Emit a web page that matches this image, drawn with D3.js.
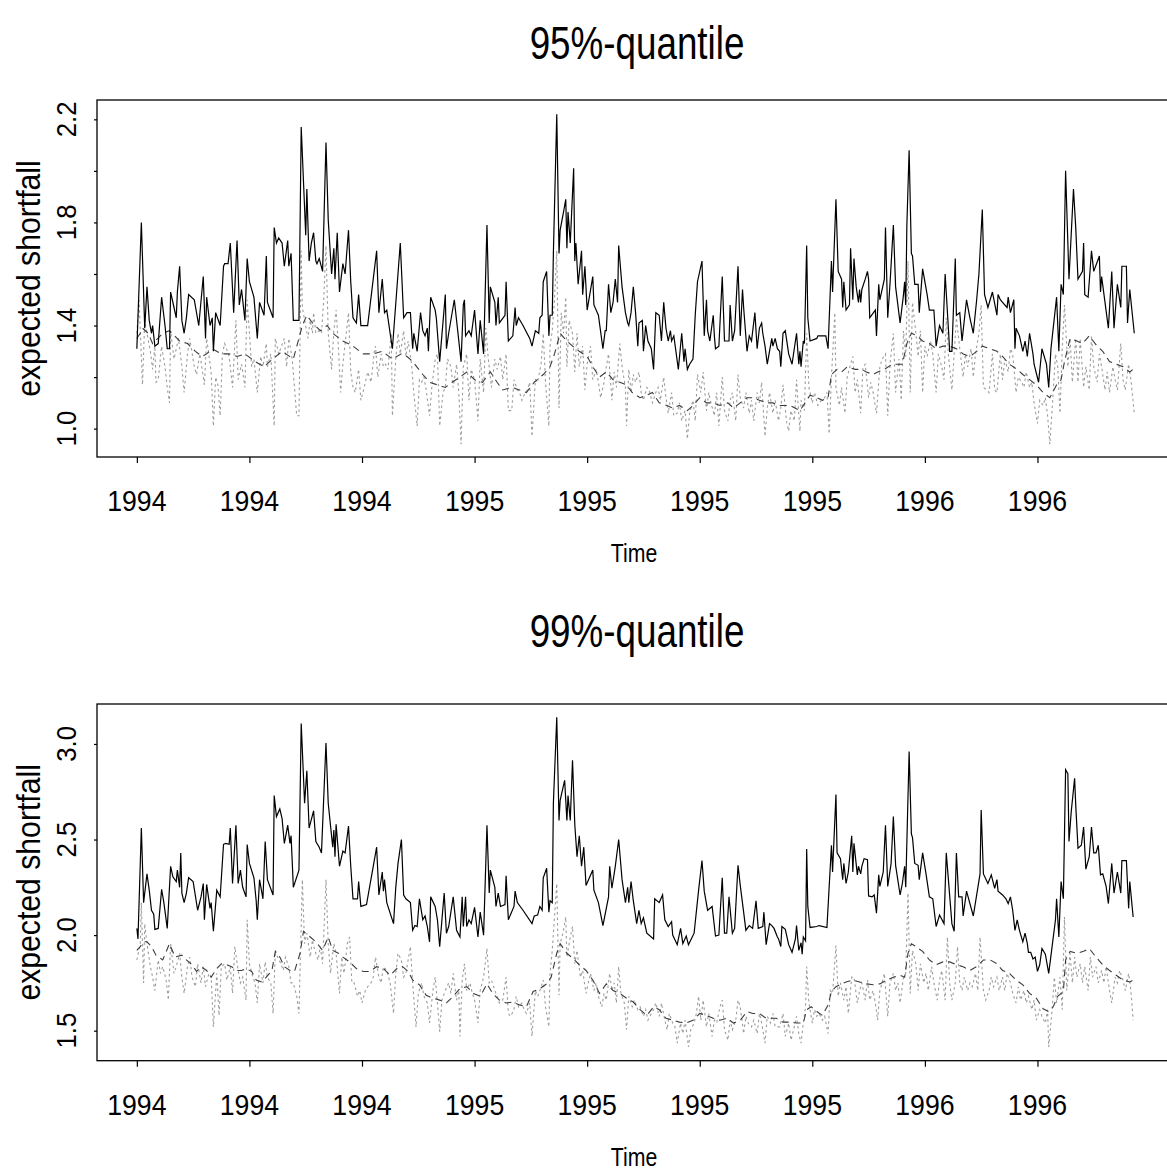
<!DOCTYPE html>
<html>
<head>
<meta charset="utf-8">
<script src="https://cdn.jsdelivr.net/npm/d3@7"></script>
<style>
    body { margin: 0; background: #fff; }
    text { font-family: "Liberation Sans", Arial, Helvetica, sans-serif; fill: #000; }
</style>
</head>
<body>
<svg id="chart" width="1167" height="1171"></svg>
<script>
/** ------------- DATA -------------- */

/** observation index of each x tick, and its label */
const tickDays = [0, 100, 200, 300, 400, 500, 600, 700, 800];
const tickLabels = ["1994", "1994", "1994", "1995", "1995", "1995", "1995", "1996", "1996"];

/** y ticks of each panel (only some of them get a label) */
const yTicks95 = [1.0, 1.2, 1.4, 1.6, 1.8, 2.0, 2.2];
const yLabels95 = [1.0, 1.4, 1.8, 2.2];
const yTicks99 = [1.5, 2.0, 2.5, 3.0];
const yLabels99 = [1.5, 2.0, 2.5, 3.0];

/** 95%-quantile: [observation, expected shortfall] */
const es95Solid = [[0,1.31],[4,1.80],[7,1.39],[9,1.55],[11,1.42],[13,1.37],[14,1.40],[16,1.32],[19,1.33],[22,1.51],[25,1.40],[27,1.31],[29,1.31],[30,1.53],[33,1.47],[35,1.43],[36,1.53],[38,1.63],[40,1.42],[42,1.37],[44,1.43],[46,1.52],[51,1.50],[55,1.40],[59,1.59],[61,1.35],[62,1.51],[65,1.40],[67,1.43],[68,1.30],[70,1.45],[74,1.40],[77,1.63],[78,1.64],[81,1.64],[83,1.72],[86,1.45],[89,1.73],[91,1.48],[93,1.54],[96,1.42],[98,1.66],[100,1.57],[104,1.51],[107,1.35],[109,1.49],[113,1.44],[115,1.67],[116,1.49],[121,1.43],[122,1.78],[124,1.72],[126,1.74],[129,1.72],[131,1.63],[134,1.73],[135,1.63],[137,1.68],[139,1.42],[144,1.42],[146,2.17],[150,1.75],[151,1.93],[153,1.65],[155,1.72],[157,1.76],[159,1.65],[160,1.64],[162,1.66],[165,1.61],[168,2.11],[170,1.81],[173,1.60],[175,1.70],[176,1.58],[178,1.76],[180,1.53],[183,1.64],[185,1.60],[188,1.77],[190,1.57],[192,1.43],[195,1.41],[197,1.52],[199,1.40],[205,1.40],[213,1.69],[215,1.45],[218,1.58],[220,1.45],[222,1.46],[227,1.31],[234,1.72],[237,1.43],[240,1.45],[243,1.45],[245,1.31],[246,1.37],[249,1.30],[252,1.45],[254,1.38],[256,1.36],[258,1.39],[259,1.30],[261,1.51],[265,1.46],[266,1.43],[269,1.26],[274,1.52],[275,1.31],[277,1.37],[282,1.50],[288,1.26],[290,1.48],[291,1.50],[292,1.36],[295,1.38],[297,1.36],[300,1.46],[303,1.29],[305,1.42],[308,1.29],[311,1.79],[313,1.41],[314,1.55],[318,1.49],[319,1.40],[321,1.51],[322,1.41],[327,1.44],[328,1.57],[330,1.34],[334,1.36],[336,1.47],[337,1.40],[339,1.43],[343,1.40],[349,1.35],[351,1.32],[354,1.38],[357,1.37],[358,1.43],[360,1.44],[361,1.57],[364,1.61],[366,1.36],[367,1.44],[369,1.44],[370,1.68],[373,2.22],[375,1.68],[376,1.77],[379,1.84],[381,1.89],[382,1.70],[383,1.84],[385,1.72],[388,2.01],[389,1.65],[390,1.72],[392,1.56],[395,1.69],[396,1.52],[398,1.63],[400,1.46],[405,1.59],[406,1.48],[410,1.44],[414,1.31],[416,1.38],[417,1.38],[419,1.56],[421,1.45],[423,1.49],[425,1.58],[427,1.49],[428,1.71],[431,1.55],[434,1.45],[436,1.41],[437,1.40],[439,1.45],[441,1.55],[443,1.45],[445,1.32],[446,1.41],[449,1.42],[450,1.30],[452,1.40],[454,1.34],[457,1.31],[459,1.23],[461,1.45],[464,1.44],[466,1.34],[468,1.49],[470,1.39],[472,1.34],[474,1.38],[475,1.34],[477,1.36],[481,1.23],[484,1.37],[486,1.26],[487,1.31],[489,1.23],[491,1.25],[494,1.27],[496,1.44],[498,1.57],[502,1.65],[504,1.36],[506,1.50],[507,1.38],[509,1.34],[512,1.44],[513,1.36],[514,1.31],[517,1.32],[520,1.59],[522,1.34],[526,1.34],[527,1.48],[529,1.34],[531,1.38],[534,1.63],[536,1.36],[538,1.54],[539,1.47],[542,1.30],[544,1.36],[546,1.34],[549,1.45],[551,1.31],[553,1.39],[555,1.41],[556,1.37],[558,1.32],[560,1.25],[564,1.35],[565,1.32],[567,1.35],[569,1.31],[571,1.30],[572,1.24],[574,1.37],[576,1.38],[579,1.29],[582,1.25],[584,1.31],[586,1.37],[588,1.25],[589,1.30],[590,1.24],[592,1.34],[593,1.33],[595,1.71],[596,1.43],[598,1.34],[604,1.35],[605,1.36],[612,1.36],[614,1.31],[617,1.65],[618,1.53],[621,1.89],[623,1.61],[626,1.58],[627,1.47],[628,1.57],[630,1.46],[633,1.48],[634,1.70],[636,1.50],[637,1.66],[639,1.55],[641,1.49],[642,1.54],[643,1.49],[644,1.54],[647,1.58],[649,1.61],[650,1.58],[651,1.43],[656,1.46],[657,1.36],[659,1.56],[660,1.50],[664,1.58],[665,1.78],[667,1.43],[669,1.56],[672,1.79],[674,1.55],[678,1.41],[681,1.52],[682,1.57],[683,1.48],[684,1.79],[686,2.08],[688,1.68],[689,1.67],[691,1.56],[694,1.56],[695,1.45],[698,1.62],[702,1.52],[704,1.46],[708,1.46],[710,1.32],[713,1.40],[716,1.37],[718,1.60],[721,1.38],[722,1.30],[724,1.30],[727,1.66],[728,1.44],[731,1.45],[733,1.34],[737,1.50],[740,1.43],[743,1.37],[746,1.50],[748,1.60],[751,1.85],[753,1.52],[756,1.47],[760,1.53],[764,1.44],[765,1.52],[767,1.50],[769,1.49],[773,1.47],[774,1.51],[776,1.45],[779,1.50],[780,1.31],[781,1.39],[784,1.36],[787,1.30],[789,1.34],[791,1.28],[793,1.37],[796,1.29],[797,1.25],[801,1.18],[804,1.31],[808,1.25],[810,1.16],[812,1.31],[817,1.51],[819,1.30],[821,1.56],[823,1.52],[825,2.00],[828,1.58],[832,1.93],[834,1.78],[836,1.58],[840,1.61],[841,1.72],[842,1.52],[845,1.51],[848,1.69],[850,1.61],[855,1.67],[856,1.53],[857,1.59],[863,1.39],[866,1.61],[868,1.39],[871,1.56],[874,1.47],[875,1.63],[879,1.63],[880,1.41],[882,1.54],[886,1.37]];

const es95Dashed = [[0,1.35],[3,1.37],[5,1.39],[10,1.37],[14,1.33],[23,1.37],[29,1.38],[38,1.34],[45,1.33],[52,1.30],[58,1.28],[62,1.29],[67,1.31],[75,1.29],[82,1.29],[89,1.28],[96,1.29],[105,1.26],[113,1.24],[118,1.26],[129,1.30],[139,1.27],[147,1.40],[151,1.44],[156,1.41],[163,1.38],[169,1.40],[174,1.37],[183,1.34],[192,1.32],[201,1.29],[210,1.29],[218,1.30],[227,1.27],[235,1.29],[240,1.28],[245,1.26],[254,1.21],[260,1.18],[267,1.17],[274,1.16],[280,1.18],[287,1.20],[293,1.22],[300,1.19],[307,1.18],[314,1.22],[320,1.18],[325,1.15],[333,1.16],[340,1.15],[346,1.14],[353,1.18],[361,1.21],[367,1.24],[371,1.29],[376,1.37],[382,1.34],[387,1.32],[393,1.30],[400,1.28],[405,1.24],[411,1.20],[417,1.22],[423,1.19],[429,1.18],[435,1.17],[440,1.14],[447,1.12],[453,1.13],[458,1.14],[464,1.10],[471,1.09],[476,1.08],[482,1.09],[489,1.07],[494,1.09],[500,1.12],[506,1.10],[512,1.10],[518,1.09],[525,1.10],[530,1.08],[536,1.10],[542,1.12],[547,1.12],[553,1.11],[560,1.10],[565,1.10],[571,1.09],[580,1.09],[589,1.07],[592,1.09],[598,1.13],[604,1.12],[609,1.11],[614,1.12],[617,1.21],[622,1.23],[626,1.22],[631,1.24],[638,1.23],[644,1.23],[648,1.22],[654,1.21],[658,1.22],[664,1.23],[671,1.25],[676,1.25],[680,1.25],[684,1.33],[688,1.37],[693,1.36],[698,1.34],[704,1.33],[710,1.31],[716,1.32],[722,1.32],[728,1.31],[734,1.29],[740,1.28],[746,1.30],[751,1.32],[758,1.31],[764,1.30],[769,1.28],[775,1.25],[782,1.23],[787,1.21],[793,1.19],[799,1.17],[805,1.14],[811,1.12],[817,1.17],[821,1.19],[824,1.26],[829,1.35],[835,1.34],[840,1.33],[846,1.36],[853,1.32],[858,1.30],[864,1.26],[870,1.25],[876,1.24],[882,1.22],[885,1.23]];

const es95Dotted = [[0,1.37],[2,1.50],[5,1.17],[7,1.42],[9,1.37],[12,1.30],[14,1.23],[16,1.32],[17,1.18],[19,1.19],[22,1.32],[25,1.24],[27,1.16],[29,1.10],[30,1.38],[33,1.27],[37,1.35],[40,1.24],[42,1.14],[45,1.29],[47,1.35],[51,1.24],[53,1.21],[56,1.29],[60,1.17],[62,1.35],[66,1.22],[68,1.01],[70,1.20],[72,1.17],[74,1.05],[76,1.29],[78,1.33],[82,1.28],[85,1.16],[88,1.42],[90,1.19],[93,1.25],[96,1.16],[98,1.50],[100,1.37],[102,1.24],[104,1.27],[107,1.14],[110,1.28],[112,1.24],[115,1.33],[116,1.24],[119,1.29],[122,1.01],[123,1.35],[126,1.29],[131,1.35],[133,1.24],[135,1.35],[138,1.27],[142,1.05],[144,1.05],[146,1.69],[147,1.47],[152,1.35],[154,1.42],[156,1.37],[157,1.45],[159,1.37],[162,1.38],[164,1.37],[166,1.50],[168,1.71],[170,1.37],[173,1.23],[175,1.38],[177,1.46],[179,1.32],[181,1.14],[183,1.25],[186,1.37],[188,1.45],[190,1.22],[192,1.16],[194,1.14],[197,1.23],[199,1.11],[202,1.16],[205,1.22],[208,1.18],[211,1.30],[212,1.32],[214,1.20],[217,1.29],[219,1.24],[221,1.25],[223,1.23],[226,1.37],[227,1.05],[230,1.27],[232,1.37],[234,1.29],[237,1.38],[239,1.28],[241,1.34],[244,1.25],[246,1.14],[249,1.01],[251,1.19],[253,1.18],[255,1.20],[257,1.15],[260,1.05],[262,1.16],[265,1.27],[267,1.29],[269,1.01],[272,1.14],[274,1.16],[276,1.27],[279,1.24],[281,1.16],[284,1.25],[286,1.14],[288,0.94],[290,1.24],[293,1.29],[295,1.11],[297,1.23],[300,1.19],[303,1.03],[305,1.27],[308,1.14],[310,1.39],[312,1.28],[315,1.16],[318,1.27],[320,1.23],[323,1.28],[325,1.19],[328,1.29],[330,1.07],[333,1.07],[335,1.19],[338,1.15],[340,1.14],[342,1.11],[345,1.14],[347,1.15],[349,1.18],[351,0.97],[354,1.19],[356,1.18],[359,1.25],[361,1.37],[363,1.18],[366,1.01],[367,1.32],[369,1.38],[371,1.50],[373,1.69],[375,1.08],[377,1.45],[379,1.37],[381,1.51],[382,1.24],[384,1.42],[387,1.37],[389,1.22],[391,1.37],[393,1.24],[396,1.32],[398,1.15],[400,1.25],[403,1.32],[405,1.19],[408,1.23],[410,1.18],[412,1.12],[415,1.18],[417,1.24],[419,1.29],[422,1.11],[424,1.22],[426,1.16],[429,1.33],[431,1.24],[434,1.16],[435,1.01],[437,1.23],[439,1.14],[441,1.21],[443,1.18],[446,1.22],[448,1.14],[450,1.11],[453,1.16],[455,1.15],[458,1.10],[461,1.14],[463,1.16],[465,1.11],[468,1.20],[470,1.12],[472,1.06],[475,1.14],[477,1.05],[480,1.06],[482,1.10],[484,1.03],[487,1.07],[489,0.96],[491,1.06],[494,1.11],[496,1.03],[498,1.21],[501,1.14],[503,1.22],[506,1.07],[508,1.14],[510,1.10],[513,1.05],[515,1.14],[517,1.01],[520,1.20],[522,1.07],[525,1.03],[527,1.11],[529,1.14],[532,1.03],[534,1.21],[536,1.12],[539,1.08],[541,1.14],[544,1.06],[546,1.11],[548,1.03],[551,1.14],[553,1.10],[555,1.18],[558,0.97],[560,1.08],[562,1.14],[565,1.06],[567,1.11],[570,1.03],[572,1.08],[574,1.17],[577,1.03],[579,0.99],[581,1.07],[584,1.03],[586,1.19],[589,0.99],[590,1.11],[593,1.07],[595,1.37],[597,1.16],[600,1.10],[602,1.14],[605,1.09],[608,1.11],[611,1.12],[613,1.14],[615,0.98],[617,1.20],[620,1.45],[621,1.16],[624,1.09],[626,1.16],[629,1.06],[631,1.20],[634,1.25],[636,1.28],[638,1.14],[640,1.19],[643,1.06],[645,1.24],[647,1.25],[650,1.12],[652,1.18],[654,1.14],[657,1.06],[660,1.24],[662,1.27],[665,1.29],[667,1.05],[669,1.25],[672,1.37],[674,1.14],[677,1.27],[679,1.11],[681,1.38],[683,1.28],[685,1.65],[687,1.14],[689,1.49],[692,1.37],[694,1.28],[696,1.38],[698,1.14],[700,1.32],[702,1.28],[705,1.34],[707,1.29],[710,1.14],[712,1.29],[715,1.24],[717,1.19],[719,1.43],[721,1.28],[724,1.15],[726,1.29],[728,1.43],[731,1.31],[734,1.20],[736,1.29],[738,1.24],[741,1.31],[743,1.20],[745,1.29],[748,1.37],[750,1.48],[752,1.16],[755,1.15],[757,1.14],[760,1.29],[762,1.15],[764,1.14],[767,1.29],[769,1.19],[771,1.27],[774,1.22],[776,1.31],[778,1.29],[781,1.14],[783,1.20],[786,1.18],[788,1.16],[790,1.22],[793,1.16],[795,1.18],[797,1.10],[800,1.02],[802,1.11],[805,1.09],[807,1.12],[809,1.05],[811,0.94],[814,1.14],[816,1.29],[818,1.24],[820,1.06],[822,1.31],[824,1.48],[827,1.24],[829,1.35],[831,1.18],[834,1.35],[836,1.18],[838,1.35],[841,1.16],[843,1.24],[846,1.15],[848,1.36],[850,1.24],[853,1.18],[855,1.29],[857,1.24],[860,1.15],[862,1.22],[864,1.14],[867,1.24],[869,1.19],[871,1.15],[874,1.33],[876,1.19],[878,1.15],[881,1.25],[883,1.19],[886,1.06]];

/** 99%-quantile: [observation, expected shortfall] */
const es99Solid = [[0,2.035],[1,1.98],[4,2.56],[6,2.17],[9,2.32],[11,2.235],[13,2.13],[15,2.11],[16,2.03],[19,2.035],[22,2.24],[24,2.17],[27,2.035],[30,2.36],[32,2.305],[35,2.28],[36,2.34],[38,2.25],[39,2.43],[40,2.22],[42,2.17],[44,2.22],[46,2.30],[50,2.28],[54,2.13],[57,2.20],[59,2.27],[60,2.08],[62,2.265],[65,2.14],[66,2.17],[68,2.02],[71,2.235],[74,2.20],[77,2.475],[79,2.48],[82,2.475],[83,2.56],[85,2.27],[88,2.575],[90,2.27],[92,2.34],[94,2.25],[97,2.20],[98,2.474],[100,2.375],[104,2.30],[106,2.18],[107,2.08],[109,2.29],[112,2.19],[114,2.49],[116,2.29],[121,2.21],[122,2.73],[124,2.62],[127,2.66],[129,2.61],[131,2.48],[132,2.51],[134,2.575],[136,2.48],[137,2.52],[139,2.25],[144,2.34],[146,3.107],[149,2.69],[151,2.86],[153,2.56],[157,2.65],[159,2.49],[162,2.46],[164,2.43],[168,3.005],[170,2.69],[174,2.46],[175,2.55],[176,2.41],[177,2.58],[180,2.36],[183,2.44],[185,2.43],[188,2.57],[190,2.36],[192,2.19],[196,2.19],[197,2.28],[199,2.15],[204,2.16],[213,2.46],[215,2.21],[218,2.33],[219,2.23],[220,2.29],[222,2.17],[228,2.06],[230,2.25],[232,2.375],[235,2.50],[237,2.21],[239,2.19],[243,2.17],[245,2.025],[247,2.05],[249,2.045],[251,2.19],[254,2.08],[256,2.10],[258,2.045],[260,1.965],[261,2.20],[265,2.15],[267,2.08],[269,1.94],[273,2.22],[275,2.01],[277,2.045],[281,2.20],[284,2.025],[287,1.99],[289,2.20],[290,2.045],[292,2.20],[293,2.045],[295,2.08],[297,2.06],[300,2.145],[303,1.99],[305,2.12],[308,2.00],[311,2.575],[313,2.22],[314,2.34],[318,2.25],[319,2.15],[321,2.22],[323,2.15],[327,2.16],[328,2.31],[330,2.08],[335,2.15],[336,2.23],[338,2.17],[343,2.13],[351,2.06],[353,2.10],[356,2.105],[358,2.15],[360,2.13],[361,2.30],[364,2.35],[366,2.12],[367,2.18],[369,2.17],[370,2.69],[373,3.14],[375,2.60],[376,2.705],[380,2.81],[382,2.60],[383,2.73],[385,2.60],[387,2.915],[389,2.58],[391,2.41],[393,2.52],[395,2.36],[397,2.46],[399,2.26],[405,2.34],[406,2.235],[410,2.17],[414,2.05],[419,2.20],[420,2.36],[422,2.245],[425,2.36],[428,2.50],[431,2.29],[434,2.17],[436,2.25],[437,2.17],[439,2.28],[441,2.18],[444,2.06],[446,2.13],[448,2.06],[450,2.09],[453,2.01],[459,1.98],[460,2.19],[464,2.17],[467,2.21],[469,2.08],[472,2.045],[475,2.07],[476,2.00],[480,1.95],[483,2.035],[485,1.955],[488,1.995],[490,1.95],[495,2.01],[499,2.235],[502,2.39],[504,2.23],[507,2.13],[511,2.15],[514,1.995],[517,2.00],[520,2.30],[522,2.01],[524,2.01],[526,2.20],[529,2.01],[531,2.035],[534,2.365],[536,2.26],[539,2.12],[541,2.025],[544,2.05],[547,2.035],[550,2.18],[552,2.035],[556,2.045],[557,2.12],[559,1.95],[562,2.06],[564,2.05],[566,2.035],[569,1.99],[570,1.98],[572,1.94],[573,2.045],[576,2.03],[579,1.95],[582,1.91],[585,1.98],[586,2.05],[588,1.92],[590,1.96],[591,1.90],[592,1.99],[594,1.97],[595,2.45],[596,2.15],[598,2.04],[604,2.045],[606,2.05],[613,2.04],[617,2.47],[618,2.33],[621,2.735],[622,2.43],[625,2.40],[627,2.29],[628,2.375],[630,2.27],[632,2.33],[635,2.52],[636,2.33],[637,2.48],[640,2.315],[641,2.36],[643,2.32],[644,2.36],[646,2.40],[649,2.395],[650,2.205],[653,2.20],[655,2.21],[657,2.115],[659,2.315],[660,2.255],[663,2.33],[665,2.575],[667,2.255],[670,2.375],[672,2.62],[674,2.365],[678,2.21],[680,2.27],[682,2.36],[683,2.25],[686,2.96],[688,2.53],[689,2.51],[691,2.375],[694,2.365],[695,2.29],[698,2.43],[701,2.32],[704,2.20],[707,2.19],[710,2.045],[713,2.105],[717,2.06],[719,2.43],[724,2.06],[726,2.02],[728,2.43],[730,2.20],[733,2.20],[734,2.10],[737,2.23],[743,2.10],[749,2.32],[750,2.655],[752,2.32],[756,2.27],[759,2.315],[762,2.245],[764,2.29],[765,2.23],[769,2.21],[772,2.19],[774,2.165],[776,2.20],[778,2.13],[780,2.025],[782,2.08],[784,2.025],[787,1.965],[789,2.01],[791,1.955],[792,1.91],[794,1.91],[796,1.875],[798,1.885],[800,1.81],[802,1.845],[804,1.93],[807,1.90],[810,1.80],[813,1.94],[816,2.08],[817,2.19],[819,1.99],[821,2.28],[823,2.19],[825,2.865],[827,2.845],[828,2.49],[830,2.645],[833,2.82],[834,2.68],[836,2.455],[839,2.47],[841,2.565],[843,2.345],[846,2.41],[848,2.565],[850,2.43],[852,2.43],[854,2.47],[856,2.315],[858,2.32],[861,2.255],[863,2.165],[866,2.375],[868,2.22],[871,2.33],[874,2.22],[875,2.39],[879,2.39],[881,2.14],[882,2.28],[885,2.095]];

const es99Dashed = [[0,1.92],[3,1.94],[6,1.965],[9,1.965],[13,1.94],[17,1.895],[23,1.87],[29,1.955],[34,1.885],[40,1.895],[44,1.87],[49,1.845],[53,1.81],[57,1.835],[62,1.815],[66,1.78],[71,1.825],[75,1.85],[80,1.845],[84,1.835],[89,1.815],[93,1.815],[97,1.825],[102,1.81],[106,1.765],[111,1.755],[115,1.78],[120,1.815],[123,1.915],[127,1.885],[131,1.835],[136,1.815],[140,1.81],[145,1.905],[148,2.02],[152,2.00],[157,1.975],[161,1.95],[165,1.92],[170,1.99],[174,1.92],[179,1.905],[183,1.885],[189,1.86],[195,1.825],[201,1.81],[207,1.81],[213,1.835],[219,1.825],[225,1.79],[231,1.825],[236,1.835],[241,1.81],[245,1.765],[251,1.74],[257,1.685],[263,1.67],[269,1.66],[275,1.645],[281,1.68],[287,1.72],[293,1.73],[299,1.695],[305,1.68],[311,1.745],[316,1.695],[322,1.66],[328,1.645],[334,1.65],[340,1.635],[346,1.625],[352,1.705],[358,1.72],[364,1.745],[368,1.78],[373,1.905],[376,1.955],[382,1.905],[387,1.88],[393,1.845],[399,1.815],[405,1.765],[411,1.695],[417,1.745],[423,1.71],[429,1.695],[435,1.67],[441,1.65],[447,1.61],[453,1.58],[459,1.625],[464,1.61],[470,1.565],[476,1.555],[482,1.545],[488,1.54],[494,1.555],[500,1.59],[506,1.58],[512,1.565],[518,1.555],[524,1.565],[530,1.54],[536,1.555],[542,1.60],[547,1.59],[553,1.59],[559,1.565],[565,1.565],[568,1.565],[574,1.545],[580,1.545],[586,1.54],[592,1.54],[595,1.61],[599,1.625],[604,1.60],[609,1.58],[614,1.635],[617,1.705],[621,1.73],[626,1.745],[630,1.755],[636,1.765],[642,1.755],[648,1.745],[654,1.74],[660,1.745],[666,1.765],[672,1.78],[678,1.79],[682,1.78],[685,1.905],[688,1.955],[692,1.94],[698,1.915],[704,1.87],[710,1.845],[716,1.86],[722,1.86],[728,1.845],[734,1.835],[740,1.815],[746,1.835],[752,1.87],[758,1.87],[764,1.85],[769,1.815],[775,1.80],[781,1.765],[787,1.74],[793,1.695],[799,1.67],[805,1.615],[810,1.60],[814,1.625],[818,1.68],[823,1.705],[825,1.87],[829,1.915],[835,1.905],[841,1.915],[846,1.93],[852,1.885],[858,1.845],[864,1.815],[870,1.79],[876,1.765],[882,1.755],[885,1.765]];

const es99Dotted = [[0,1.87],[3,1.955],[4,2.17],[6,1.75],[7,2.06],[9,1.955],[12,1.835],[14,1.78],[16,1.71],[19,1.87],[21,1.80],[23,1.835],[26,1.765],[28,1.66],[30,1.955],[33,1.80],[35,1.835],[38,1.905],[40,1.78],[42,1.695],[45,1.835],[47,1.885],[49,1.78],[52,1.73],[54,1.85],[57,1.75],[59,1.835],[61,1.73],[64,1.80],[66,1.78],[68,1.52],[71,1.80],[73,1.58],[75,1.835],[78,1.85],[80,1.765],[83,1.835],[85,1.695],[87,1.94],[90,1.815],[92,1.75],[94,1.78],[97,1.66],[98,2.08],[100,1.85],[103,1.78],[105,1.75],[107,1.645],[109,1.85],[112,1.75],[114,1.86],[116,1.78],[119,1.75],[121,1.59],[123,1.92],[125,1.885],[128,1.85],[130,1.815],[132,1.885],[135,1.835],[137,1.75],[139,1.75],[142,1.68],[144,1.59],[147,2.29],[149,1.955],[151,2.01],[154,1.885],[156,1.975],[158,1.92],[161,1.87],[163,1.94],[165,1.85],[168,2.29],[170,1.955],[172,1.80],[175,1.955],[177,1.905],[180,1.695],[182,1.885],[184,1.80],[187,1.955],[189,1.99],[191,1.75],[193,1.75],[196,1.68],[198,1.71],[200,1.645],[203,1.71],[205,1.73],[208,1.75],[210,1.78],[212,1.885],[215,1.78],[217,1.75],[219,1.835],[222,1.815],[225,1.75],[228,1.59],[230,1.80],[232,1.905],[235,1.87],[237,1.78],[239,1.80],[243,1.94],[245,1.75],[248,1.52],[250,1.695],[253,1.75],[255,1.68],[258,1.645],[260,1.54],[263,1.71],[265,1.78],[267,1.645],[269,1.495],[271,1.66],[274,1.71],[277,1.75],[279,1.695],[281,1.80],[284,1.66],[286,1.71],[287,1.47],[289,1.765],[291,1.85],[293,1.71],[296,1.75],[298,1.695],[300,1.66],[303,1.54],[305,1.71],[308,1.78],[311,1.93],[313,1.75],[315,1.765],[318,1.71],[320,1.68],[322,1.645],[325,1.66],[328,1.78],[330,1.59],[332,1.575],[335,1.61],[337,1.68],[339,1.625],[342,1.645],[344,1.61],[346,1.59],[349,1.645],[351,1.47],[354,1.71],[356,1.68],[358,1.71],[361,1.765],[363,1.625],[366,1.52],[367,1.80],[369,1.92],[371,2.095],[373,2.27],[375,1.685],[376,1.955],[379,2.025],[381,2.095],[382,1.885],[385,1.99],[387,2.045],[389,1.85],[391,1.92],[394,1.78],[396,1.815],[399,1.695],[401,1.75],[403,1.80],[406,1.71],[408,1.75],[410,1.68],[413,1.625],[415,1.695],[417,1.66],[420,1.80],[422,1.71],[424,1.75],[426,1.645],[428,1.835],[430,1.695],[433,1.645],[435,1.505],[437,1.68],[440,1.625],[442,1.66],[445,1.61],[447,1.625],[450,1.575],[452,1.61],[454,1.555],[457,1.59],[459,1.61],[461,1.645],[464,1.575],[466,1.645],[469,1.555],[471,1.505],[473,1.59],[476,1.54],[478,1.52],[480,1.435],[483,1.54],[485,1.485],[487,1.555],[490,1.415],[492,1.505],[495,1.54],[497,1.59],[499,1.68],[501,1.555],[503,1.66],[506,1.52],[508,1.59],[511,1.47],[513,1.555],[515,1.54],[518,1.625],[520,1.66],[522,1.505],[525,1.45],[527,1.555],[529,1.505],[532,1.555],[534,1.66],[536,1.625],[539,1.485],[541,1.575],[543,1.54],[546,1.52],[548,1.555],[551,1.485],[553,1.59],[555,1.54],[558,1.435],[560,1.575],[563,1.54],[565,1.59],[567,1.52],[571,1.52],[574,1.59],[576,1.47],[579,1.54],[581,1.45],[584,1.52],[586,1.575],[588,1.485],[590,1.435],[592,1.54],[594,1.625],[595,1.835],[597,1.645],[600,1.54],[602,1.61],[604,1.575],[606,1.59],[609,1.555],[611,1.575],[614,1.485],[616,1.71],[618,1.695],[621,1.945],[623,1.68],[625,1.75],[628,1.66],[630,1.73],[632,1.59],[635,1.78],[637,1.78],[640,1.645],[642,1.71],[644,1.75],[647,1.66],[649,1.765],[651,1.66],[654,1.71],[656,1.645],[658,1.555],[660,1.71],[662,1.75],[664,1.80],[667,1.575],[669,1.75],[672,1.80],[674,1.71],[676,1.75],[678,1.645],[681,1.78],[683,1.80],[685,2.22],[687,1.695],[689,1.92],[692,1.85],[694,1.71],[696,1.85],[699,1.75],[701,1.80],[703,1.71],[706,1.835],[708,1.75],[711,1.66],[713,1.765],[715,1.815],[718,1.66],[720,1.99],[722,1.75],[724,1.66],[727,1.75],[729,1.94],[731,1.75],[733,1.71],[735,1.78],[738,1.71],[740,1.75],[742,1.73],[745,1.80],[747,1.71],[749,1.99],[752,1.71],[754,1.66],[757,1.71],[759,1.78],[761,1.73],[764,1.78],[766,1.71],[769,1.78],[771,1.71],[773,1.80],[776,1.75],[778,1.695],[781,1.645],[783,1.73],[785,1.66],[788,1.71],[790,1.645],[792,1.68],[795,1.61],[797,1.66],[799,1.555],[802,1.61],[804,1.575],[807,1.54],[809,1.61],[810,1.415],[813,1.61],[815,1.78],[817,1.645],[820,1.78],[822,1.61],[824,2.095],[826,1.71],[829,1.905],[831,1.75],[833,1.885],[835,1.78],[838,1.85],[840,1.75],[842,1.835],[845,1.71],[847,1.885],[849,1.78],[852,1.835],[854,1.75],[857,1.815],[859,1.75],[861,1.835],[864,1.71],[866,1.645],[869,1.78],[871,1.75],[873,1.815],[876,1.765],[878,1.71],[881,1.80],[883,1.71],[885,1.555]];

/** ------------- LAYOUT -------------- */

const svg = d3.select("#chart");
const plotLeft = 97;
const plotRight = 1173; // the right edge of the box falls just outside the window

const x = d3.scaleLinear().domain([-35.4, 920.4]).range([plotLeft, plotRight]);

const panels = [
    {
        title: "95%-quantile", titleY: 59, top: 100, bottom: 457,
        yDomain: [0.89, 2.275], yTicks: yTicks95, yLabels: yLabels95,
        solid: es95Solid, dashed: es95Dashed, dotted: es95Dotted,
    },
    {
        title: "99%-quantile", titleY: 647, top: 704, bottom: 1060.7,
        yDomain: [1.343, 3.209], yTicks: yTicks99, yLabels: yLabels99,
        solid: es99Solid, dashed: es99Dashed, dotted: es99Dotted,
    },
];

/**
 * Write a piece of text, squeezed horizontally like the narrow postscript font.
 */
function label(g, str, px, py, size, squeeze, angle) {
    g.append("text")
        .attr("transform", `translate(${px},${py}) rotate(${angle || 0}) scale(${squeeze},1)`)
        .attr("text-anchor", "middle")
        .style("font-size", size + "px")
        .text(str);
}

panels.forEach((p) => {
    const y = d3.scaleLinear().domain(p.yDomain).range([p.bottom, p.top]);
    const g = svg.append("g");

    const line = d3
        .line()
        .x((d) => x(d[0]))
        .y((d) => y(d[1]));

    // dotted, then dashed, then the solid series on top
    g.append("path")
        .attr("d", line(p.dotted))
        .attr("fill", "none")
        .attr("stroke", "#9c9c9c")
        .attr("stroke-width", 1.1)
        .attr("stroke-dasharray", "2.5,3");
    g.append("path")
        .attr("d", line(p.dashed))
        .attr("fill", "none")
        .attr("stroke", "#3c3c3c")
        .attr("stroke-width", 1.1)
        .attr("stroke-dasharray", "7,5");
    g.append("path")
        .attr("d", line(p.solid))
        .attr("fill", "none")
        .attr("stroke", "#000")
        .attr("stroke-width", 1.2);

    // box
    g.append("rect")
        .attr("x", plotLeft)
        .attr("y", p.top)
        .attr("width", plotRight - plotLeft)
        .attr("height", p.bottom - p.top)
        .attr("fill", "none")
        .attr("stroke", "#000")
        .attr("stroke-width", 1.3);

    // x axis
    const xAxis = g
        .append("g")
        .attr("transform", `translate(0,${p.bottom})`)
        .call(d3.axisBottom(x).tickValues(tickDays).tickSize(6).tickSizeOuter(0).tickFormat(""));
    xAxis.select(".domain").remove();
    xAxis.selectAll("line").attr("stroke-width", 1.2);
    tickDays.forEach((d, i) => {
        label(g, tickLabels[i], x(d), p.bottom + 54, 29, 0.92);
    });
    label(g, "Time", (plotLeft + plotRight) / 2 - 1, p.bottom + 105, 25, 0.85);

    // y axis, labels parallel to the axis
    const yAxis = g
        .append("g")
        .attr("transform", `translate(${plotLeft},0)`)
        .call(d3.axisLeft(y).tickValues(p.yTicks).tickSize(3).tickSizeOuter(0).tickFormat(""));
    yAxis.select(".domain").remove();
    yAxis.selectAll("line").attr("stroke-width", 1.2);
    p.yLabels.forEach((v) => {
        label(g, d3.format(".1f")(v), plotLeft - 21, y(v), 28, 0.92, -90);
    });
    label(g, "expected shortfall", 40, (p.top + p.bottom) / 2, 33, 0.915, -90);

    // title
    label(g, p.title, 637, p.titleY, 46, 0.8);
});
</script>
</body>
</html>
